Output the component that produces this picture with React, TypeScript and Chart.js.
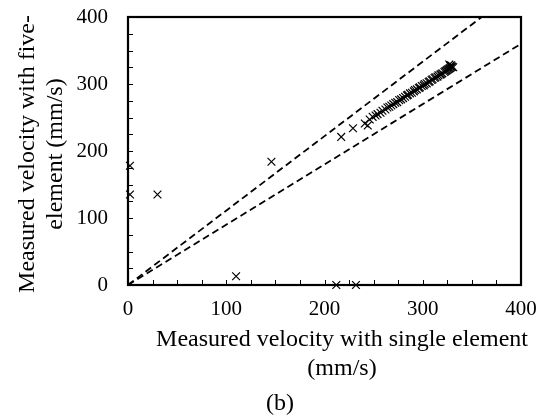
import React, { useEffect, useRef } from "react";
import { Chart, registerables } from "chart.js";

Chart.register(...registerables);

// Measured velocity with single element (x) vs five-element (y), mm/s
const singleVel: number[] = [
  2, 2, 30, 146, 110, 212, 232, 217, 229, 241, 244,
  246, 249, 252, 254, 257, 259, 262, 264, 266, 268, 270, 272, 274, 276, 278, 280,
  282, 284, 285, 287, 289, 291, 292, 294, 296, 297, 299, 301, 302, 304, 306, 307,
  309, 310, 312, 313, 315, 316, 318, 319, 320, 322, 323, 324, 325, 326, 327, 328,
  329, 330, 331, 327, 329, 328,
];
const fiveVel: number[] = [
  178, 135, 135, 184, 13, 0, 0, 221, 234, 241, 238,
  247, 251, 253, 255, 257, 260, 262, 265, 266, 268, 270, 272, 273, 276, 277, 279,
  281, 283, 284, 286, 287, 289, 291, 292, 294, 295, 297, 298, 300, 301, 303, 304,
  306, 307, 309, 310, 311, 313, 314, 315, 316, 318, 319, 320, 321, 322, 323, 324,
  325, 326, 325, 329, 328, 327,
];

// +/-10 % reference lines
const upperLineX: number[] = [0, 360];
const upperLineY: number[] = [0, 400];
const lowerLineX: number[] = [0, 400];
const lowerLineY: number[] = [0, 360];

const axisMin = 0;
const axisMax = 400;
const majorStep = 100;
const minorStep = 25;

const xTitleLines: string[] = ["Measured velocity with single element", "(mm/s)"];
const yTitleLines: string[] = ["Measured velocity with five-", "element (mm/s)"];
const captionText = "(b)";

const FONT = "'Liberation Serif', 'Times New Roman', serif";

const noPad = (s: any) => {
  s.paddingTop = 0;
  s.paddingBottom = 0;
  s.paddingLeft = 0;
  s.paddingRight = 0;
};

const framePlugin = {
  id: "framePlugin",
  beforeDatasetsDraw(chart: any) {
    const ctx = chart.ctx as CanvasRenderingContext2D;
    const { left, right, top, bottom } = chart.chartArea;
    const xs = chart.scales.x;
    const ys = chart.scales.y;
    ctx.save();
    ctx.strokeStyle = "#000";
    // inward ticks
    ctx.lineWidth = 1;
    for (let v = axisMin; v <= axisMax; v += minorStep) {
      const px = Math.round(xs.getPixelForValue(v)) + 0.5;
      ctx.beginPath();
      ctx.moveTo(px, bottom);
      ctx.lineTo(px, bottom - 5);
      ctx.stroke();
      const py = Math.round(ys.getPixelForValue(v)) + 0.5;
      ctx.beginPath();
      ctx.moveTo(left, py);
      ctx.lineTo(left + 5, py);
      ctx.stroke();
    }
    // frame
    ctx.lineWidth = 2.2;
    ctx.strokeRect(left, top, right - left, bottom - top);
    ctx.restore();
  },
  afterDraw(chart: any) {
    const ctx = chart.ctx as CanvasRenderingContext2D;
    ctx.save();
    ctx.fillStyle = "#000";
    ctx.textAlign = "center";
    ctx.textBaseline = "middle";
    ctx.font = `24px ${FONT}`;
    ctx.fillText(xTitleLines[0], 342, 340);
    ctx.fillText(xTitleLines[1], 342, 369);
    ctx.fillText(captionText, 280, 404);

    const yc = 154;
    ctx.save();
    ctx.translate(28, yc);
    ctx.rotate(-Math.PI / 2);
    ctx.fillText(yTitleLines[0], 0, 0);
    ctx.restore();
    ctx.save();
    ctx.translate(56, yc);
    ctx.rotate(-Math.PI / 2);
    ctx.fillText(yTitleLines[1], 0, 0);
    ctx.restore();
    ctx.restore();
  },
};

export default function App() {
  const ref = useRef<HTMLCanvasElement | null>(null);
  useEffect(() => {
    if (!ref.current) return;
    const points = singleVel.map((x, i) => ({ x, y: fiveVel[i] }));
    const chart = new Chart(ref.current, {
      type: "scatter",
      data: {
        datasets: [
          {
            data: upperLineX.map((x, i) => ({ x, y: upperLineY[i] })),
            showLine: true,
            borderColor: "#000",
            borderWidth: 1.8,
            borderDash: [7, 4],
            pointRadius: 0,
          },
          {
            data: lowerLineX.map((x, i) => ({ x, y: lowerLineY[i] })),
            showLine: true,
            borderColor: "#000",
            borderWidth: 1.8,
            borderDash: [7, 4],
            pointRadius: 0,
          },
          {
            data: points,
            pointStyle: "crossRot",
            pointRadius: 5.5,
            borderColor: "#000",
            borderWidth: 1.2,
            backgroundColor: "#000",
            clip: false,
          },
        ],
      },
      options: {
        responsive: false,
        animation: false,
        layout: { padding: { left: 0, top: 17, right: 18, bottom: 0 } },
        plugins: { legend: { display: false }, tooltip: { enabled: false } },
        scales: {
          x: {
            type: "linear",
            min: axisMin,
            max: axisMax,
            grid: { display: false, drawTicks: false },
            border: { display: false },
            ticks: {
              stepSize: majorStep,
              padding: 12,
              color: "#000",
              font: { family: FONT, size: 21 },
              maxRotation: 0,
            },
            afterFit: (s: any) => {
              s.height = 134;
              noPad(s);
            },
          },
          y: {
            type: "linear",
            min: axisMin,
            max: axisMax,
            grid: { display: false, drawTicks: false },
            border: { display: false },
            ticks: {
              stepSize: majorStep,
              padding: 20,
              color: "#000",
              font: { family: FONT, size: 21 },
            },
            afterFit: (s: any) => {
              s.width = 128;
              noPad(s);
            },
          },
        },
      },
      plugins: [framePlugin],
    });
    return () => chart.destroy();
  }, []);
  return (
    <div style={{ position: "absolute", left: 0, top: 0, width: 539, height: 419 }}>
      <canvas ref={ref} width={539} height={419} style={{ display: "block" }} />
    </div>
  );
}
